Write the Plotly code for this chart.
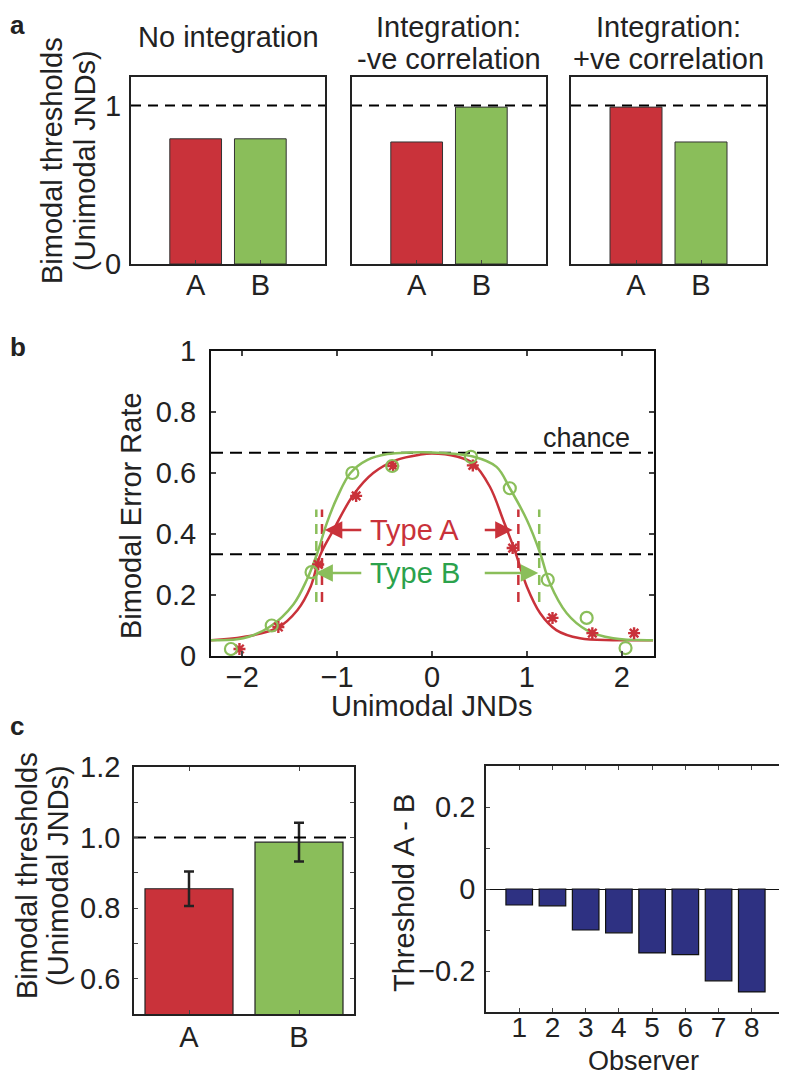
import plotly.graph_objects as go

W, H = 787, 1074
OFF = 8  # page body margin in the browser

# ---------------- data ----------------
# Panel a
a_titles = [["No integration"], ["Integration:", "-ve correlation"], ["Integration:", "+ve correlation"]]
a_cats = ["A", "B"]
a_vals = [[0.79, 0.79], [0.77, 0.99], [0.99, 0.77]]

# Panel b: fitted curves
red_curve_x = [-2.33, -1.99, -1.63, -1.42, -1.28, -1.18, -1.04, -0.83, -0.62, -0.37, -0.13, 0.0,
               0.26, 0.43, 0.61, 0.75, 0.87, 1.0, 1.14, 1.31, 1.56, 1.91, 2.33]
red_curve_y = [0.052, 0.062, 0.092, 0.15, 0.227, 0.33, 0.413, 0.528, 0.60, 0.643, 0.66, 0.664,
               0.654, 0.632, 0.555, 0.446, 0.348, 0.227, 0.14, 0.085, 0.058, 0.052, 0.052]
green_curve_x = [-2.33, -1.99, -1.71, -1.46, -1.32, -1.21, -1.11, -1.0, -0.86, -0.68, -0.47, -0.23, 0.0,
                 0.43, 0.68, 0.82, 1.0, 1.14, 1.24, 1.42, 1.63, 1.91, 2.33]
green_curve_y = [0.052, 0.058, 0.096, 0.17, 0.25, 0.337, 0.435, 0.52, 0.60, 0.643, 0.662, 0.667, 0.667,
                 0.654, 0.62, 0.55, 0.446, 0.337, 0.24, 0.14, 0.085, 0.058, 0.052]
# observed points
red_pts_x = [-2.03, -1.62, -1.2, -0.8, -0.41, 0.43, 0.85, 1.27, 1.69, 2.13]
red_pts_y = [0.023, 0.095, 0.30, 0.525, 0.623, 0.625, 0.354, 0.125, 0.075, 0.075]
green_pts_x = [-2.12, -1.69, -1.27, -0.84, -0.42, 0.41, 0.82, 1.22, 1.63, 2.04]
green_pts_y = [0.023, 0.10, 0.275, 0.60, 0.623, 0.653, 0.55, 0.25, 0.125, 0.026]
chance_level = 2 / 3
threshold_level = 1 / 3
red_thresholds = [-1.16, 0.91]
green_thresholds = [-1.22, 1.13]

# Panel c
c_cats = ["A", "B"]
c_vals = [0.855, 0.987]
c_err = [0.049, 0.055]
observers = [1, 2, 3, 4, 5, 6, 7, 8]
diff_vals = [-0.039, -0.041, -0.100, -0.107, -0.156, -0.160, -0.224, -0.251]

# ---------------- style ----------------
RED = "#c9323a"
GREEN = "#8abe5a"
GREEN_TXT = "#2ba24c"
NAVY = "#2e3182"
TXT = "#222222"
FONT = "Liberation Sans, Arial, Helvetica, sans-serif"
FS = 29


def px_x(p):
    return (p - OFF) / W


def px_y(p):
    return 1 - (p - OFF) / H


fig = go.Figure()

common_axis = dict(showgrid=False, automargin=False, fixedrange=True,
                   tickfont=dict(size=FS, color=TXT, family=FONT))


def ann(xp, yp, text, angle=0, size=FS, bold=False, color=TXT, xanchor="center", yanchor="middle"):
    fig.add_annotation(x=px_x(xp), y=px_y(yp), xref="paper", yref="paper", text=text,
                       textangle=angle, showarrow=False, xanchor=xanchor, yanchor=yanchor,
                       font=dict(size=size, color=color, family=FONT, weight="bold" if bold else "normal"))


# ---------------- panel a ----------------
a_dom_x = [(131, 325), (352, 546), (571, 766)]
a_dom_y = (77, 264)
for i in range(3):
    n = i + 1
    xa = "x" if n == 1 else f"x{n}"
    ya = "y" if n == 1 else f"y{n}"
    fig.add_trace(go.Bar(x=[1, 2], y=a_vals[i], width=0.8,
                         marker=dict(color=[RED, GREEN], line=dict(color="#333333", width=1)),
                         xaxis=xa, yaxis=ya, showlegend=False))
    fig.add_trace(go.Scatter(x=[0, 3], y=[1, 1], mode="lines",
                             line=dict(color="black", width=2, dash="10px,7px"),
                             xaxis=xa, yaxis=ya, showlegend=False))
    xk = "xaxis" if n == 1 else f"xaxis{n}"
    yk = "yaxis" if n == 1 else f"yaxis{n}"
    fig.layout[xk] = dict(domain=[px_x(a_dom_x[i][0]), px_x(a_dom_x[i][1])], range=[0, 3],
                          anchor=ya, tickvals=[1, 2], ticktext=a_cats, ticks="inside", ticklen=4,
                          ticklabelstandoff=-6,
                          showline=True, linecolor="#222", linewidth=2, mirror=True,
                          zeroline=False, **common_axis)
    fig.layout[yk] = dict(domain=[px_y(a_dom_y[1]), px_y(a_dom_y[0])], range=[0, 1.18],
                          anchor=xa, tickvals=[0, 1] if n == 1 else [], ticktext=["0", "1"] if n == 1 else [],
                          ticks="", ticklabelstandoff=2,
                          showline=True, linecolor="#222", linewidth=2, mirror=True,
                          zeroline=False, **common_axis)
    cx = (a_dom_x[i][0] + a_dom_x[i][1]) / 2
    lines = a_titles[i]
    if len(lines) == 1:
        ann(cx, 37, lines[0])
    else:
        ann(cx, 27, lines[0])
        ann(cx, 59, lines[1])

# ---------------- panel b ----------------
fig.add_trace(go.Scatter(x=[-2.33, 2.33], y=[chance_level] * 2, mode="lines",
                         line=dict(color="black", width=2, dash="12px,7px"),
                         xaxis="x4", yaxis="y4", showlegend=False))
fig.add_trace(go.Scatter(x=[-2.33, 2.33], y=[threshold_level] * 2, mode="lines",
                         line=dict(color="black", width=2, dash="12px,7px"),
                         xaxis="x4", yaxis="y4", showlegend=False))
for xv in green_thresholds:
    fig.add_trace(go.Scatter(x=[xv, xv], y=[0.177, 0.48], mode="lines",
                             line=dict(color=GREEN, width=2.5, dash="10px,7px"),
                             xaxis="x4", yaxis="y4", showlegend=False))
for xv in red_thresholds:
    fig.add_trace(go.Scatter(x=[xv, xv], y=[0.177, 0.48], mode="lines",
                             line=dict(color=RED, width=2.5, dash="10px,7px"),
                             xaxis="x4", yaxis="y4", showlegend=False))
fig.add_trace(go.Scatter(x=red_curve_x, y=red_curve_y, mode="lines",
                         line=dict(color=RED, width=2.5, shape="spline", smoothing=1.0),
                         xaxis="x4", yaxis="y4", showlegend=False))
fig.add_trace(go.Scatter(x=green_curve_x, y=green_curve_y, mode="lines",
                         line=dict(color=GREEN, width=2.5, shape="spline", smoothing=1.0),
                         xaxis="x4", yaxis="y4", showlegend=False))
fig.add_trace(go.Scatter(x=red_pts_x, y=red_pts_y, mode="markers",
                         marker=dict(symbol="asterisk-open", size=10, color=RED,
                                     line=dict(color=RED, width=2.4)),
                         xaxis="x4", yaxis="y4", showlegend=False))
fig.add_trace(go.Scatter(x=green_pts_x, y=green_pts_y, mode="markers",
                         marker=dict(symbol="circle-open", size=12, color=GREEN, line=dict(color=GREEN, width=2.2)),
                         xaxis="x4", yaxis="y4", showlegend=False))

fig.layout["xaxis4"] = dict(domain=[px_x(211), px_x(654)], range=[-2.33, 2.34], anchor="y4",
                            tickvals=[-2, -1, 0, 1, 2], ticks="inside", ticklen=5, tickwidth=1.5,
                            ticklabelstandoff=-6,
                            showline=True, linecolor="#111", linewidth=2, mirror="ticks",
                            zeroline=False, **common_axis)
fig.layout["yaxis4"] = dict(domain=[px_y(656), px_y(351)], range=[0, 1], anchor="x4",
                            tickvals=[0, 0.2, 0.4, 0.6, 0.8, 1], ticktext=["0", "0.2", "0.4", "0.6", "0.8", "1"],
                            ticks="inside", ticklen=5, tickwidth=1.5, ticklabelstandoff=7,
                            showline=True, linecolor="#111", linewidth=2, mirror="ticks",
                            zeroline=False, **common_axis)

# arrows
arrow_specs = [
    (-0.73, 0.413, -1.13, RED),
    (0.54, 0.413, 0.85, RED),
    (-0.73, 0.272, -1.23, GREEN),
    (0.54, 0.272, 1.12, GREEN),
]
for tx, yv, hx, col in arrow_specs:
    fig.add_annotation(x=hx, y=yv, ax=tx, ay=yv, xref="x4", yref="y4", axref="x4", ayref="y4",
                       showarrow=True, arrowhead=2, arrowsize=1.4, arrowwidth=2.5, arrowcolor=col, text="")
fig.add_annotation(x=-0.18, y=0.413, xref="x4", yref="y4", text="Type A", showarrow=False,
                   font=dict(size=FS, color=RED, family=FONT))
fig.add_annotation(x=-0.18, y=0.272, xref="x4", yref="y4", text="Type B", showarrow=False,
                   font=dict(size=FS, color=GREEN_TXT, family=FONT))
fig.add_annotation(x=1.63, y=0.715, xref="x4", yref="y4", text="chance", showarrow=False,
                   font=dict(size=FS - 2, color=TXT, family=FONT))

# ---------------- panel c left ----------------
fig.add_trace(go.Bar(x=[1, 2], y=c_vals, width=0.8,
                     marker=dict(color=[RED, GREEN], line=dict(color="#222", width=1.2)),
                     error_y=dict(type="data", array=c_err, color="#222", thickness=2.5, width=5),
                     xaxis="x5", yaxis="y5", showlegend=False))
fig.add_trace(go.Scatter(x=[0.5, 2.5], y=[1, 1], mode="lines",
                         line=dict(color="black", width=2, dash="12px,8px"),
                         xaxis="x5", yaxis="y5", showlegend=False))
fig.layout["xaxis5"] = dict(domain=[px_x(134), px_x(354)], range=[0.5, 2.5], anchor="y5",
                            tickvals=[1, 2], ticktext=c_cats, ticks="inside", ticklen=4,
                            ticklabelstandoff=-4,
                            showline=True, linecolor="#222", linewidth=1.5, mirror="ticks",
                            zeroline=False, **common_axis)
fig.layout["yaxis5"] = dict(domain=[px_y(1014), px_y(767)], range=[0.5, 1.2], anchor="x5",
                            tickvals=[0.6, 0.7, 0.8, 0.9, 1.0, 1.1, 1.2],
                            ticktext=["0.6", "", "0.8", "", "1.0", "", "1.2"],
                            ticks="inside", ticklen=4, ticklabelstandoff=6,
                            showline=True, linecolor="#222", linewidth=1.5, mirror="ticks",
                            zeroline=False, **common_axis)

# ---------------- panel c right ----------------
fig.add_trace(go.Bar(x=observers, y=diff_vals, width=0.8,
                     marker=dict(color=NAVY, line=dict(color="#111", width=1.2)),
                     xaxis="x6", yaxis="y6", showlegend=False))
axis6_common = dict(common_axis)
axis6_common["tickfont"] = dict(size=28, color=TXT, family=FONT)
fig.layout["xaxis6"] = dict(domain=[px_x(486), px_x(785)], range=[0, 9], anchor="y6",
                            tickvals=observers, ticks="inside", ticklen=4, ticklabelstandoff=-10,
                            showline=True, linecolor="#222", linewidth=1.5, mirror="ticks",
                            zeroline=False, **axis6_common)
fig.layout["yaxis6"] = dict(domain=[px_y(1012), px_y(766)], range=[-0.3, 0.3], anchor="x6",
                            tickvals=[-0.2, -0.1, 0, 0.1, 0.2],
                            ticktext=["\u22120.2", "", "0", "", "0.2"],
                            ticks="inside", ticklen=4, ticklabelstandoff=3,
                            showline=True, linecolor="#222", linewidth=1.5, mirror="ticks",
                            zeroline=True, zerolinecolor="#111", zerolinewidth=1.2, **common_axis)

# ---------------- axis titles & panel letters ----------------
ann(52, 161, "Bimodal thresholds", angle=-90)
ann(85, 161, "(Unimodal JNDs)", angle=-90)
ann(131, 516, "Bimodal Error Rate", angle=-90)
ann(432, 706, "Unimodal JNDs")
ann(27, 876, "Bimodal thresholds", angle=-90)
ann(58, 876, "(Unimodal JNDs)", angle=-90)
ann(404, 893, "Threshold A - B", angle=-90)
ann(643, 1061, "Observer", size=27)
ann(OFF, OFF, "a", size=26, bold=True, xanchor="left", yanchor="top")
ann(OFF, 347, "b", size=26, bold=True, xanchor="left")
ann(OFF, 726, "c", size=26, bold=True, xanchor="left")

fig.update_layout(width=W, height=H, margin=dict(l=0, r=0, t=0, b=0, autoexpand=False),
                  paper_bgcolor="white", plot_bgcolor="white",
                  font=dict(family=FONT, size=FS, color=TXT), bargap=0.2)

fig.write_html("out.html")
